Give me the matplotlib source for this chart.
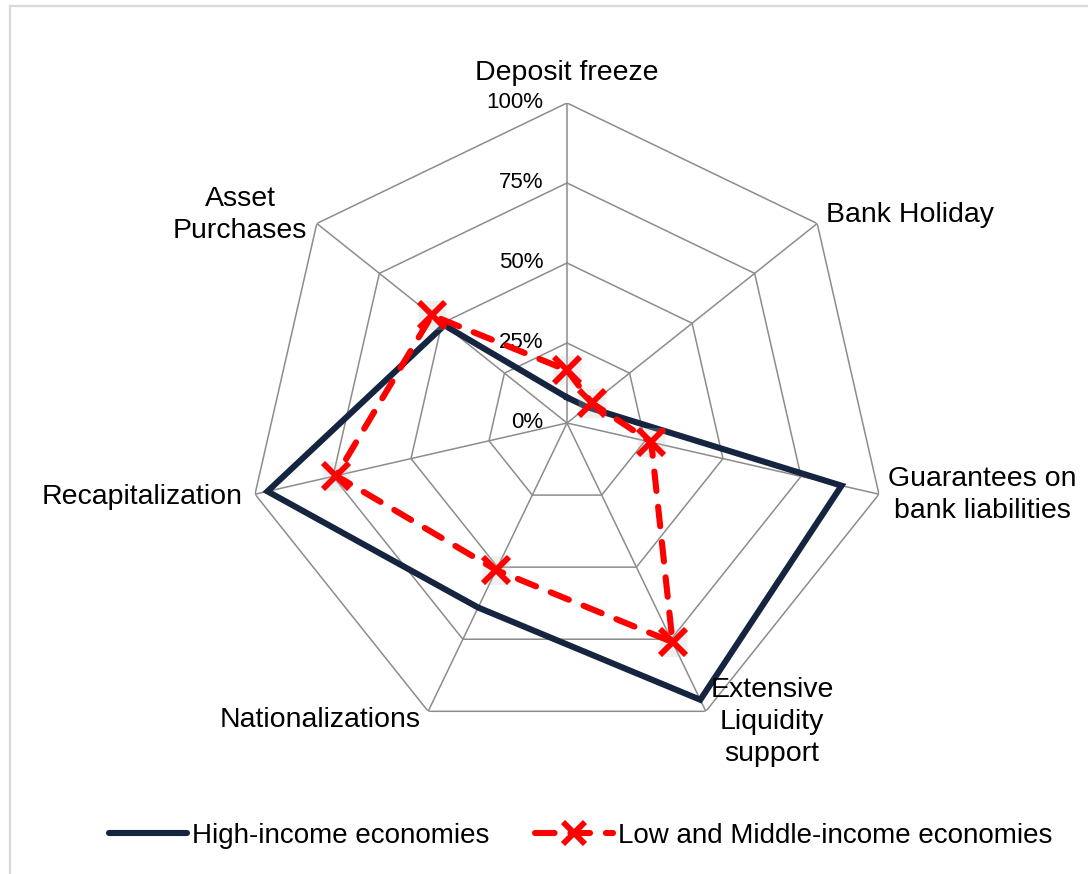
import numpy as np
import matplotlib
matplotlib.use("Agg")
import matplotlib.pyplot as plt
from matplotlib.lines import Line2D

plt.rcParams['font.family'] = ['Liberation Sans', 'DejaVu Sans']

categories = ["Deposit freeze", "Bank Holiday", "Guarantees on\nbank liabilities",
              "Extensive\nLiquidity\nsupport", "Nationalizations", "Recapitalization",
              "Asset\nPurchases"]
high_income = [0.08, 0.08, 0.88, 0.96, 0.64, 0.96, 0.49]
low_middle = [0.165, 0.10, 0.27, 0.76, 0.51, 0.74, 0.54]
ring_levels = [0.0, 0.25, 0.50, 0.75, 1.00]
ring_labels = ["0%", "25%", "50%", "75%", "100%"]

W, H = 1088, 874
fig = plt.figure(figsize=(W / 100, H / 100), dpi=100)

# light chart-area border (top and left edges visible)
fig.add_artist(Line2D([9.5 / W, 9.5 / W], [0, 1 - 6 / H], transform=fig.transFigure,
                      color='#d9d9d9', lw=1.6))
fig.add_artist(Line2D([9.5 / W, 1], [1 - 6 / H, 1 - 6 / H], transform=fig.transFigure,
                      color='#d9d9d9', lw=1.6))

cx, cy, R = 567, 423, 320
ax = fig.add_axes([(cx - R) / W, (H - cy - R) / H, 2 * R / W, 2 * R / H], projection='polar')
ax.set_theta_offset(np.pi / 2)
ax.set_theta_direction(-1)
ax.set_ylim(0, 1)
ax.grid(False)
ax.set_xticks([])
ax.set_yticks([])
ax.spines['polar'].set_visible(False)
ax.patch.set_visible(False)

n = len(categories)
angles = np.arange(n) * 2 * np.pi / n
closed = np.append(angles, angles[0])

# heptagon web
for lvl in ring_levels[1:]:
    ax.plot(closed, [lvl] * (n + 1), color='#8c8c8c', lw=1.1, zorder=1)
for a in angles:
    ax.plot([a, a], [0, 1], color='#8c8c8c', lw=1.1, zorder=1)

for lvl, lab in zip(ring_levels, ring_labels):
    ax.annotate(lab, xy=(0, lvl), xytext=(-17, 0), textcoords='offset points',
                ha='right', va='center', fontsize=16, color='black', zorder=2)

hi = np.append(high_income, high_income[0])
lo = np.append(low_middle, low_middle[0])
ax.plot(closed, hi, color='#15253f', lw=4.4, solid_joinstyle='miter', zorder=3)

# soft shadow squares behind the markers
ax.plot(angles, low_middle, ls='none', marker='s', ms=20, mfc='#c0c0c0', mec='none',
        alpha=0.25, zorder=3.5)
ax.plot(closed, lo, color='#ff0000', lw=4.4, dashes=(3.2, 2.6), dash_capstyle='round',
        zorder=4)
ax.plot(angles, low_middle, ls='none', marker='x', ms=19, mew=4.2, color='#ff0000', zorder=5)

# category labels, placed in pixel positions around the web
label_pos = [
    (567, 73, 'center'),
    (826, 215, 'left'),
    (982, 495, 'center'),
    (772, 722, 'center'),
    (320, 720, 'center'),
    (142, 497, 'center'),
    (240, 215, 'center'),
]
for text, (px, py, ha) in zip(categories, label_pos):
    fig.text(px / W, 1 - py / H, text, ha=ha, va='center', fontsize=20.5,
             linespacing=1.3, multialignment='center')

handles = [
    Line2D([], [], color='#15253f', lw=4.4, solid_capstyle='round'),
    Line2D([], [], color='#ff0000', lw=4.4, dashes=(3.2, 2.6), dash_capstyle='round',
           marker='x', ms=16, mew=4.2),
]
fig.legend(handles, ["High-income economies", "Low and Middle-income economies"],
           loc='center', bbox_to_anchor=(0.534, 1 - 836 / H), ncol=2, frameon=False,
           fontsize=20, handlelength=2.8, handletextpad=0.18, columnspacing=1.65)

fig.savefig("out.png", dpi=100)
